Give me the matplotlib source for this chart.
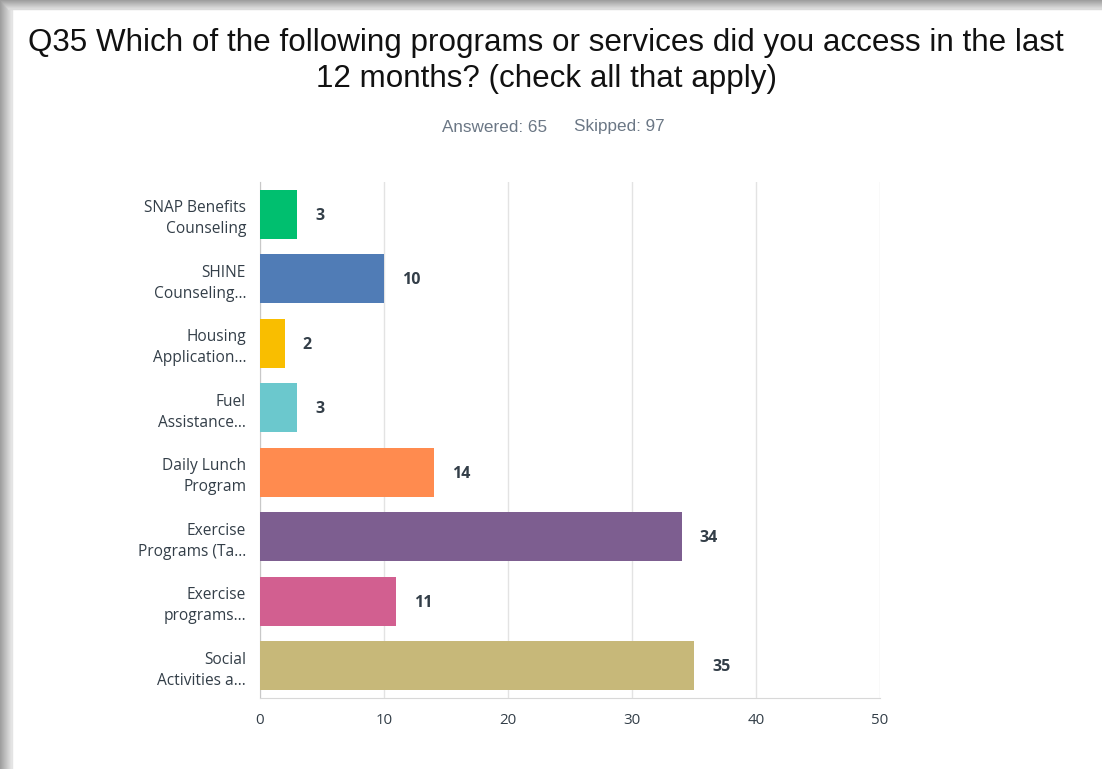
import numpy as np
import matplotlib.pyplot as plt
from matplotlib.patches import Rectangle

categories = ['SNAP Benefits\nCounseling', 'SHINE\nCounseling...', 'Housing\nApplication...',
              'Fuel\nAssistance...', 'Daily Lunch\nProgram', 'Exercise\nPrograms (Ta...',
              'Exercise\nprograms...', 'Social\nActivities a...']
valores = [3, 10, 2, 3, 14, 34, 11, 35]
cores = ['#00BF6F', '#507CB6', '#F9BE00', '#6BC8CD', '#FF8B4F', '#7D5E90', '#D25F90', '#C7B879']
ticks_x = [0, 10, 20, 30, 40, 50]

W, H = 1102, 769
fig = plt.figure(figsize=(W / 100, H / 100), dpi=100)
fig.patch.set_facecolor('white')

# moldura cinza (sombra) a esquerda e no topo
for i in range(12):
    g = 0.62 + 0.025 * i
    fig.patches.append(Rectangle((i / W, 0), 1 / W, 1, transform=fig.transFigure,
                                 color=(g, g, g), zorder=0))
for i in range(9):
    g = 0.62 + 0.03 * i
    fig.patches.append(Rectangle((i / W, 1 - (i + 1) / H), 1, 1 / H, transform=fig.transFigure,
                                 color=(g, g, g), zorder=0))

fig.text(546 / W, 1 - 61 / H, 'Q35 Which of the following programs or services did you access in the last\n12 months? (check all that apply)',
         ha='center', va='center', fontsize=22.6, family='Liberation Sans', color='#111111',
         linespacing=1.22)
fig.text(495 / W, 1 - 127 / H, 'Answered: 65', ha='center', va='center', fontsize=12.3,
         family='Liberation Sans', color='#6b7785')
fig.text(619 / W, 1 - 127 / H, 'Skipped: 97', ha='center', va='center', fontsize=12.3,
         family='Liberation Sans', color='#6b7785')

ax = fig.add_axes([260 / W, 1 - 698 / H, 620 / W, 516 / H])
y = np.arange(len(categories))
ax.barh(y, valores, height=0.76, color=cores, zorder=3)
for yi, v in zip(y, valores):
    ax.annotate(str(v), (v, yi), xytext=(13, -1), textcoords='offset points',
                ha='left', va='center', fontsize=11.5, fontweight='bold',
                color='#333e48', family='Open Sans')

ax.set_xlim(0, 50)
ax.set_ylim(len(categories) - 0.5, -0.5)
ax.set_xticks(ticks_x)
ax.set_yticks(y)
ax.set_yticklabels(categories, fontsize=11.2, family='Open Sans', color='#333e48',
                   linespacing=1.4)
ax.tick_params(axis='y', length=0, pad=10)
ax.tick_params(axis='x', length=0, pad=11, labelsize=10.8, labelcolor='#333e48')
for lb in ax.get_xticklabels():
    lb.set_family('Open Sans')
ax.grid(axis='x', color='#e3e3e3', linewidth=1, zorder=0)
for s in ['top', 'right']:
    ax.spines[s].set_visible(False)
ax.spines['left'].set_color('#c8c8c8')
ax.spines['bottom'].set_color('#d8d8d8')

plt.savefig('out.png', dpi=100)
